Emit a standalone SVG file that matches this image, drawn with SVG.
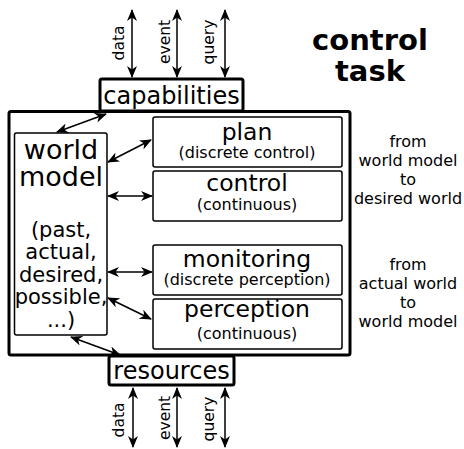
<svg xmlns="http://www.w3.org/2000/svg" width="464" height="449" viewBox="0 0 464 449">
<style>
text{font-family:"DejaVu Sans","Liberation Sans",sans-serif;fill:#000}
.box{fill:#fff;stroke:#000;stroke-width:1.5}
.big{fill:#fff;stroke:#000;stroke-width:3}
.c{stroke:#000;stroke-width:1.5;fill:none;marker-start:url(#ah);marker-end:url(#ah)}
.m{text-anchor:middle}
.t1{font-size:23.5px}
.t2{font-size:16px}
.n{font-size:16px}
.r{font-size:15.5px}
</style>
<defs>
<marker id="ah" viewBox="0 0 12 10" refX="11" refY="5" markerWidth="13" markerHeight="10" markerUnits="userSpaceOnUse" orient="auto-start-reverse">
<path d="M0,0 L12,5 L0,10 L3.5,5 z" fill="#000"/>
</marker>
</defs>
<g id="title"><text class="m" x="370" y="50" font-size="29" font-weight="bold">control</text><text class="m" x="370" y="81" font-size="29" font-weight="bold">task</text></g>
<g id="main"><rect class="big" x="9" y="111.5" width="341" height="243.5" rx="2"/></g>
<g id="capabilities"><rect class="big" x="100" y="79" width="143" height="32" rx="2"/><text class="m" x="171.5" y="104" font-size="24">capabilities</text></g>
<g id="resources"><rect class="big" x="109" y="356" width="125" height="29" rx="2"/><text class="m" x="171.5" y="379" font-size="24">resources</text></g>
<g id="world-model"><rect class="box" x="14.5" y="133" width="92.5" height="202" rx="2"/>
<text class="m" x="61" y="159" font-size="27">world</text><text class="m" x="61" y="186" font-size="27">model</text>
<text class="m" x="61" y="237" font-size="21">(past,</text><text class="m" x="61" y="259" font-size="21">actual,</text><text class="m" x="61" y="282" font-size="21">desired,</text><text class="m" x="61" y="304" font-size="21">possible,</text><text class="m" x="61" y="327" font-size="21">...)</text></g>
<g id="plan"><rect class="box" x="153" y="117" width="189" height="50" rx="2"/><text class="m t1" x="247" y="140">plan</text><text class="m t2" x="247" y="158">(discrete control)</text></g>
<g id="control"><rect class="box" x="153" y="171" width="189" height="50" rx="2"/><text class="m t1" x="247" y="191">control</text><text class="m t2" x="247" y="210">(continuous)</text></g>
<g id="monitoring"><rect class="box" x="153" y="245" width="189" height="50" rx="2"/><text class="m t1" x="247" y="267">monitoring</text><text class="m t2" x="247" y="285">(discrete perception)</text></g>
<g id="perception"><rect class="box" x="153" y="299" width="189" height="50" rx="2"/><text class="m t1" x="247" y="317">perception</text><text class="m t2" x="247" y="339">(continuous)</text></g>
<g id="notes"><text class="m n" x="408" y="147">from</text><text class="m n" x="408" y="166">world model</text><text class="m n" x="408" y="185">to</text><text class="m n" x="408" y="204">desired world</text>
<text class="m n" x="408" y="270">from</text><text class="m n" x="408" y="289">actual world</text><text class="m n" x="408" y="308">to</text><text class="m n" x="408" y="327">world model</text></g>
<g id="io-labels">
<text class="m r" transform="translate(123.5,43) rotate(-90)">data</text>
<text class="m r" transform="translate(169.5,42) rotate(-90)">event</text>
<text class="m r" transform="translate(213.5,42) rotate(-90)">query</text>
<text class="m r" transform="translate(123.5,420) rotate(-90)">data</text>
<text class="m r" transform="translate(169.5,418) rotate(-90)">event</text>
<text class="m r" transform="translate(213.5,419) rotate(-90)">query</text>
</g>
<g id="connectors">
<line class="c" x1="132" y1="10" x2="132" y2="77"/>
<line class="c" x1="177" y1="10" x2="177" y2="77"/>
<line class="c" x1="225" y1="10" x2="225" y2="77"/>
<line class="c" x1="133" y1="388" x2="133" y2="447"/>
<line class="c" x1="177" y1="388" x2="177" y2="447"/>
<line class="c" x1="225" y1="388" x2="225" y2="447"/>
<line class="c" x1="57" y1="132" x2="106" y2="114"/>
<line class="c" x1="108" y1="162" x2="151" y2="140"/>
<line class="c" x1="108" y1="196" x2="152" y2="196"/>
<line class="c" x1="108" y1="272" x2="152" y2="272"/>
<line class="c" x1="108" y1="298" x2="151" y2="319"/>
<line class="c" x1="71" y1="337" x2="120" y2="355"/>
</g>
</svg>
